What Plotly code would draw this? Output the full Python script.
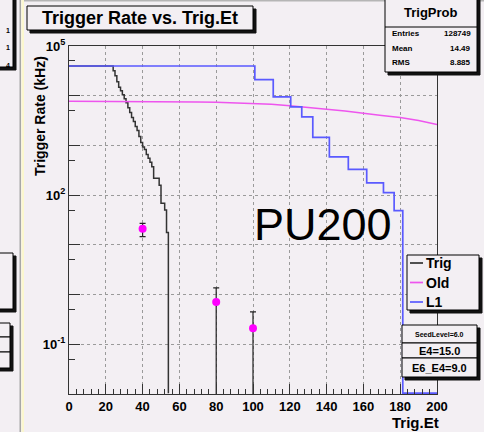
import plotly.graph_objects as go

# ---------------- data ----------------
ZERO = 0.0104  # level used for empty bins on the log axis (bottom of frame)

trig_edges = [0, 24, 25, 26, 27, 28, 29, 30, 31, 32, 33, 34, 35, 36, 37, 38, 39,
              40, 41, 42, 43, 44, 45, 46, 47, 48, 49, 50, 51, 52, 53, 54]
trig_vals = [39600, 31600, 25100, 19100, 14800, 12600, 10500, 8700, 7200, 5750, 4570,
             3630, 3020, 2400, 2000, 1510, 1150, 930, 830, 660, 550, 457, 372, 219,
             219, 219, 158, 69, 69, 50, 17.8, ZERO]

l1_edges = [0, 101, 111, 120.5, 126.5, 132.5, 141.5, 151.8, 161.8, 170.9, 176.7, 181.4, 200]
l1_vals = [39600, 21100, 9460, 5960, 3750, 1450, 590, 330, 177, 112, 48.6, ZERO, ZERO]

old_x = [0, 10, 20, 30, 40, 50, 60, 70, 80, 90, 100, 110, 120, 130, 140, 150, 160,
         170, 180, 190, 200]
old_vals = [7760, 7760, 7760, 7760, 7670, 7590, 7590, 7500, 7410, 7240, 7000, 6760,
            6310, 5890, 5370, 4900, 4370, 3980, 3630, 3160, 2630]

pts_x = [40, 80, 100]
pts_y = [21, 0.71, 0.21]
pts_err_up = [6, 0.65, 0.24]
pts_err_down = [6.4, 0.705, 0.205]

x_ticks = [0, 20, 40, 60, 80, 100, 120, 140, 160, 180, 200]
y_labeled = [1e-1, 1e2, 1e5]
y_labeled_text = ["10<sup>-1</sup>", "10<sup>2</sup>", "10<sup>5</sup>"]
y_unlabeled_decades = [1e-2, 1, 10, 1e3, 1e4]
y_minor = [5e-2, 5e-1, 5, 50, 500, 5000, 50000]

stats_rows = [("Entries", "128749"), ("Mean", "14.49"), ("RMS", "8.885")]
legend_items = [("Trig", "#333333"), ("Old", "#ee55ee"), ("L1", "#5a5aff")]
param_boxes = ["SeedLevel=6.0", "E4=15.0", "E6_E4=9.0"]

# ---------------- layout geometry ----------------
W, H = 484, 432
L, R, T, B = 69, 437, 46, 394
BG = "#f3eff3"
FONT = "Liberation Sans"


def px(x):
    return (x - L) / (R - L)


def py(y):
    return (B - y) / (B - T)


fig = go.Figure()

fig.add_trace(go.Scatter(x=trig_edges, y=trig_vals, mode="lines", line_shape="hv",
                         line=dict(color="#333333", width=1.5), name="Trig"))
fig.add_trace(go.Scatter(x=old_x, y=old_vals, mode="lines",
                         line=dict(color="#ee55ee", width=1.5), name="Old"))
fig.add_trace(go.Scatter(x=l1_edges, y=l1_vals, mode="lines", line_shape="hv",
                         line=dict(color="#5a5aff", width=1.7), name="L1"))
fig.add_trace(go.Scatter(x=pts_x, y=pts_y, mode="markers",
                         marker=dict(color="#ff00ff", size=8),
                         error_y=dict(type="data", symmetric=False, array=pts_err_up,
                                      arrayminus=pts_err_down, color="#222222",
                                      thickness=1.2, width=3),
                         name="pts"))
# invisible companion trace so the secondary (minor-tick) axis is drawn
fig.add_trace(go.Scatter(x=pts_x, y=pts_y, yaxis="y2", mode="markers",
                         marker=dict(opacity=0), hoverinfo="skip", name="aux"))

shapes = []
annotations = []


def rect(x0, y0, x1, y1, fill=BG, line="black", lw=1):
    shapes.append(dict(type="rect", xref="paper", yref="paper",
                       x0=px(x0), x1=px(x1), y0=py(y1), y1=py(y0),
                       fillcolor=fill, line=dict(color=line, width=lw), layer="above"))


def shadow_box(x0, y0, x1, y1, off=3):
    rect(x0 + off, y0 + off, x1 + off, y1 + off, fill="#111111", line="#111111")
    rect(x0, y0, x1, y1)


def text(x, y, s, size, anchor="center", bold=True, color="black", angle=0):
    annotations.append(dict(x=px(x), y=py(y), xref="paper", yref="paper", text=s,
                            showarrow=False, xanchor=anchor, yanchor="middle",
                            textangle=angle,
                            font=dict(family=FONT, size=size, color=color,
                                      weight="bold" if bold else "normal")))


# pad separators / remnants of neighbouring pad
rect(19.5, -2, 21, 434, fill="#a8a8a8", line="#a8a8a8", lw=0)
rect(21.5, -2, 24, 434, fill="#fbf7cf", line="#fbf7cf", lw=0)
rect(24, -2, 486, 1.5, fill="#b5b5b5", line="#b5b5b5", lw=0)
shadow_box(-6, -4, 13, 67)
for yy, s in zip([30, 47, 65], ["1", "1", "4"]):
    text(12, yy, s, 7, anchor="right")
shadow_box(-6, 253, 13, 309)
rect(-4, 326, 13, 371, fill="#111111", line="#111111")
rect(-6, 323, 10, 337)
rect(-6, 337, 10, 352)
rect(-6, 352, 10, 368)

# title box
shadow_box(27, 6, 253, 30)
text(140, 18, "Trigger Rate vs. Trig.Et", 18)

# stats box
shadow_box(385, -3, 477, 72)
shapes.append(dict(type="line", xref="paper", yref="paper", x0=px(385), x1=px(477),
                   y0=py(27), y1=py(27), line=dict(color="black", width=1), layer="above"))
text(431, 13, "TrigProb", 13)
for i, (k, v) in enumerate(stats_rows):
    yy = 33 + i * 15
    text(390, yy, k, 8, anchor="left")
    text(473, yy, v, 8, anchor="right")

# legend
shadow_box(407, 255, 479, 310)
for i, (name, col) in enumerate(legend_items):
    yy = 263 + i * 19.5
    shapes.append(dict(type="line", xref="paper", yref="paper", x0=px(410), x1=px(423),
                       y0=py(yy), y1=py(yy), line=dict(color=col, width=1.7), layer="above"))
    text(424, yy, name, 14, anchor="left")

# parameter boxes
rect(405, 328, 480, 380, fill="#111111", line="#111111")
rect(402, 325, 477, 343)
rect(402, 343, 477, 358)
rect(402, 358, 477, 377)
text(439.5, 334, param_boxes[0], 7)
text(439.5, 350.5, param_boxes[1], 11)
text(439.5, 367.5, param_boxes[2], 11)

# big label
text(323, 224, "PU200", 45, bold=False)

# axis titles
text(40, 116, "Trigger Rate (kHz)", 14, angle=-90)
text(441, 422, "Trig.Et", 15, anchor="right")

GRIDC = "#9a9a9a"
DASH = "3px,3px"

fig.update_layout(
    width=W, height=H,
    margin=dict(l=L, r=W - R, t=T, b=H - B, pad=0),
    paper_bgcolor=BG, plot_bgcolor=BG,
    showlegend=False,
    shapes=shapes, annotations=annotations,
    xaxis=dict(range=[0, 200], tickmode="array", tickvals=x_ticks,
               ticks="inside", ticklen=10, tickcolor="#333333", tickwidth=1,
               showgrid=True, gridcolor=GRIDC, gridwidth=1, griddash=DASH,
               minor=dict(dtick=4, tick0=0, ticks="inside", ticklen=5,
                          tickcolor="#333333", showgrid=False),
               showline=True, linecolor="#333333", linewidth=1, mirror=True,
               zeroline=False,
               tickfont=dict(family=FONT, size=13, color="black", weight="bold")),
    yaxis=dict(type="log", range=[-2, 5], tickmode="array", tickvals=y_labeled,
               ticktext=y_labeled_text, ticks="inside", ticklen=11,
               tickcolor="#333333", tickwidth=1,
               showgrid=True, gridcolor=GRIDC, gridwidth=1, griddash=DASH,
               minor=dict(tickmode="array", tickvals=y_unlabeled_decades,
                          ticks="inside", ticklen=11, tickcolor="#333333",
                          showgrid=True, gridcolor=GRIDC, gridwidth=1, griddash=DASH),
               showline=True, linecolor="#333333", linewidth=1, mirror=True,
               zeroline=False,
               tickfont=dict(family=FONT, size=13, color="black", weight="bold")),
    yaxis2=dict(type="log", range=[-2, 5], overlaying="y", side="left",
                tickmode="array", tickvals=y_minor, ticks="inside", ticklen=6,
                tickcolor="#333333", tickwidth=1, showticklabels=False,
                showgrid=False, showline=False, zeroline=False),
)

fig.write_html("out.html")
